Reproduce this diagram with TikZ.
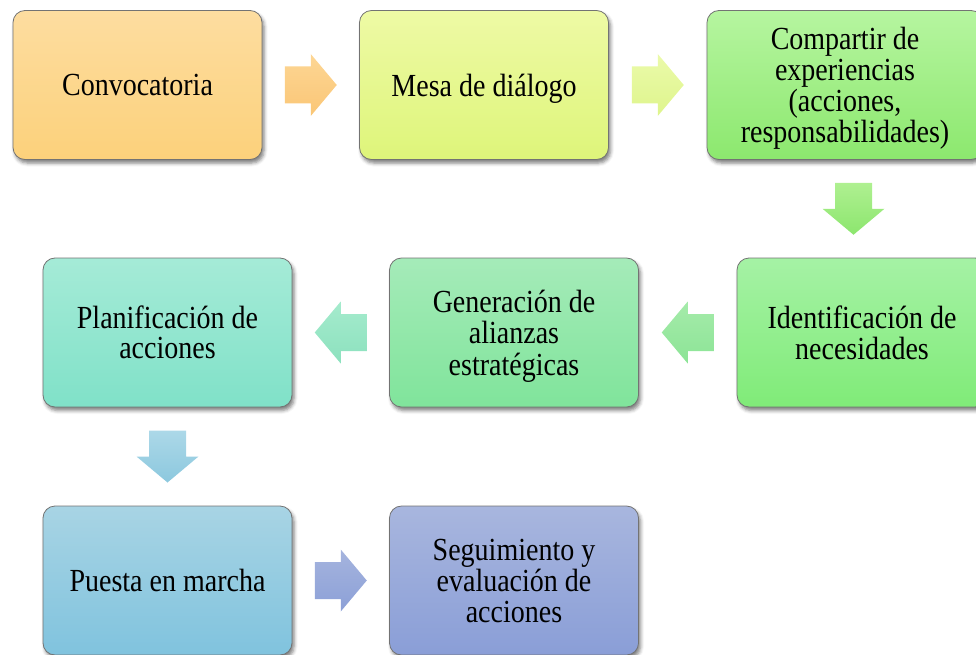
\documentclass[tikz,border=0pt]{standalone}
\usepackage{fontspec}
\setmainfont{Liberation Serif}
\usetikzlibrary{calc,shadows.blur}
\definecolor{boxline}{RGB}{115,115,115}
\definecolor{convT}{RGB}{253,221,160}\definecolor{convB}{RGB}{252,209,123}
\definecolor{mesaT}{RGB}{238,250,165}\definecolor{mesaB}{RGB}{222,245,122}
\definecolor{compT}{RGB}{182,245,160}\definecolor{compB}{RGB}{140,232,110}
\definecolor{idenT}{RGB}{165,242,165}\definecolor{idenB}{RGB}{128,235,120}
\definecolor{genT}{RGB}{165,235,185}\definecolor{genB}{RGB}{128,228,155}
\definecolor{planT}{RGB}{165,235,215}\definecolor{planB}{RGB}{128,225,200}
\definecolor{puesT}{RGB}{168,212,228}\definecolor{puesB}{RGB}{128,195,222}
\definecolor{segT}{RGB}{168,182,222}\definecolor{segB}{RGB}{138,158,215}
\definecolor{a1T}{RGB}{253,214,148}\definecolor{a1B}{RGB}{250,198,118}
\definecolor{a2T}{RGB}{235,250,170}\definecolor{a2B}{RGB}{222,245,140}
\definecolor{a3T}{RGB}{175,240,145}\definecolor{a3B}{RGB}{140,230,110}
\definecolor{a4T}{RGB}{165,235,170}\definecolor{a4B}{RGB}{140,228,150}
\definecolor{a5T}{RGB}{165,235,205}\definecolor{a5B}{RGB}{140,225,190}
\definecolor{a6T}{RGB}{172,216,232}\definecolor{a6B}{RGB}{140,200,222}
\definecolor{a7T}{RGB}{165,180,222}\definecolor{a7B}{RGB}{140,160,215}
\newcommand{\rblk}[3]{\path[top color=#2,bottom color=#3,shift={(#1)}] (-26,-18.5) -- (0,-18.5) -- (0,-31) -- (26,0) -- (0,31) -- (0,18.5) -- (-26,18.5) -- cycle;}
\newcommand{\lblk}[3]{\path[top color=#2,bottom color=#3,shift={(#1)}] (26,-18.5) -- (0,-18.5) -- (0,-31) -- (-26,0) -- (0,31) -- (0,18.5) -- (26,18.5) -- cycle;}
\newcommand{\dblk}[3]{\path[top color=#2,bottom color=#3,shift={(#1)}] (-18.5,-26) -- (18.5,-26) -- (18.5,0) -- (31,0) -- (0,26) -- (-31,0) -- (-18.5,0) -- cycle;}
\newcommand{\btxt}[1]{\raisebox{0pt}[\dimexpr\height+9pt][\depth]{\scalebox{1}[1.15]{\fontsize{28}{26}\selectfont\begin{tabular}{@{}c@{}}#1\end{tabular}}}}
\begin{document}
\begin{tikzpicture}[x=1pt,y=-1pt,
  box/.style={draw=boxline, line width=0.8pt, rounded corners=12pt,
    minimum width=249pt, minimum height=149pt, align=center, inner sep=0pt,
    blur shadow={shadow xshift=2pt, shadow yshift=-3.5pt, shadow blur radius=3.5pt, shadow opacity=50}}]
\useasboundingbox (0,0) rectangle (976,655);
\node[box, top color=convT, bottom color=convB] (conv) at (137.5,85) {\btxt{Convocatoria}};
\node[box, top color=mesaT, bottom color=mesaB] (mesa) at (484,85) {\btxt{Mesa de diálogo}};
\node[box, top color=compT, bottom color=compB, minimum width=276pt] (comp) at (845,85) {\btxt{Compartir de\\experiencias\\(acciones,\\responsabilidades)}};
\node[box, top color=idenT, bottom color=idenB, minimum width=250pt] (iden) at (862,332.5) {\btxt{Identificación de\\necesidades}};
\node[box, top color=genT, bottom color=genB] (gen) at (514,332.5) {\btxt{Generación de\\alianzas\\estratégicas}};
\node[box, top color=planT, bottom color=planB] (plan) at (167.5,332.5) {\btxt{Planificación de\\acciones}};
\node[box, top color=puesT, bottom color=puesB] (pues) at (167.5,580.5) {\btxt{Puesta en marcha}};
\node[box, top color=segT, bottom color=segB] (seg) at (514,580.5) {\btxt{Seguimiento y\\evaluación de\\acciones}};
\rblk{$(conv.east)!0.5!(mesa.west)$}{a1T}{a1B}
\rblk{$(mesa.east)!0.5!(comp.west)$}{a2T}{a2B}
\dblk{$(comp.south)!0.5!(iden.north)$}{a3T}{a3B}
\lblk{$(iden.west)!0.5!(gen.east)$}{a4T}{a4B}
\lblk{$(gen.west)!0.5!(plan.east)$}{a5T}{a5B}
\dblk{$(plan.south)!0.5!(pues.north)$}{a6T}{a6B}
\rblk{$(pues.east)!0.5!(seg.west)$}{a7T}{a7B}
\end{tikzpicture}
\end{document}
